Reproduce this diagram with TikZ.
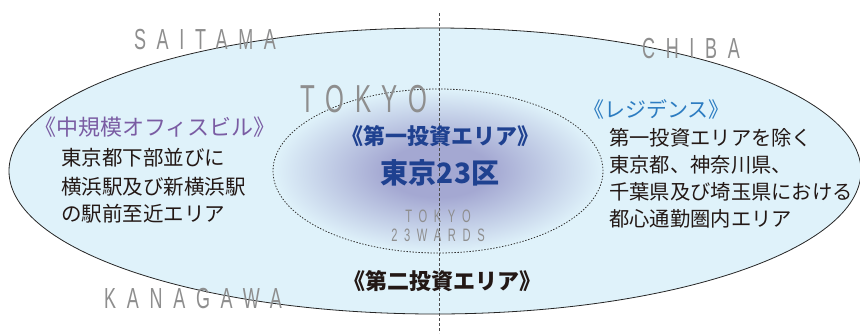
\documentclass[tikz,border=0pt]{standalone}
\usepackage{fontspec}
\usetikzlibrary{shapes.geometric}
\newfontfamily\jp{Noto Sans CJK JP}
\newfontfamily\latsp{Liberation Sans}[FakeStretch=0.62,LetterSpace=37]
\newfontfamily\latspb{Liberation Sans}[FakeStretch=0.62,LetterSpace=27]
\definecolor{skyfill}{HTML}{DFF2FA}
\definecolor{core}{HTML}{A4A8D2}
\definecolor{navy}{HTML}{1F4190}
\definecolor{resblue}{HTML}{2C7CC1}
\definecolor{offpurple}{HTML}{7A5CA3}
\definecolor{ink}{HTML}{231815}
\definecolor{placegray}{HTML}{8E8E8E}
\pgfdeclareradialshading{coreshade}{\pgfpoint{0bp}{0bp}}{color(0bp)=(core); color(8bp)=(core); color(25bp)=(skyfill); color(50bp)=(skyfill)}
\tikzset{
  place/.style={inner sep=0pt, text=placegray, font=\latsp\fontsize{#1}{#1}\selectfont},
  jptext/.style={inner sep=0pt, anchor=west, text=ink, font=\jp\fontsize{#1}{#1}\selectfont},
  jptitle/.style={inner sep=0pt, font=\jp\bfseries\fontsize{#1}{#1}\selectfont},
  jplead/.style={inner sep=0pt, anchor=west, font=\jp\fontsize{#1}{#1}\selectfont},
}
\begin{document}
\begin{tikzpicture}[x=1pt,y=-1pt]
\useasboundingbox (0,0) rectangle (860,333);
\fill[white] (0,0) rectangle (860,333);
% outer area
\node[ellipse, draw=black!85, line width=0.8pt, fill=skyfill, minimum width=852pt, minimum height=286pt, inner sep=0pt] (outer) at (435,171) {};
% inner area
\node[ellipse, shading=coreshade, draw=black!80, line width=0.8pt, dash pattern=on 1.4pt off 1.6pt, minimum width=330pt, minimum height=164pt, inner sep=0pt] (inner) at (438,171) {};
% vertical divider
\coordinate (vtop) at (439,13);
\coordinate (vbot) at (439,333);
\draw[black!70, line width=0.7pt, dash pattern=on 3pt off 2pt] (vtop) -- (vbot);
% place names
\node[place=29] (saitama) at (205,40) {SAITAMA};
\node[place=29] (chiba) at (691,49) {CHIBA};
\node[place=29] (kanagawa) at (193,299) {KANAGAWA};
\node[inner sep=0pt, text=placegray, font=\latspb\fontsize{39}{39}\selectfont] (tokyo) at (364,99) {TOKYO};
\node[place=18] (tokyoS) at (438,216.5) {TOKYO};
\node[place=18] (wards) at (438,235) {23WARDS};
% centre
\node[jptitle=22, text=navy] (first) at (440,136) {《第一投資エリア》};
\node[jptitle=28, text=navy] (ku) at (440,172.5) {東京23区};
% left
\node[jplead=22, text=offpurple] (office) at (34,127) {《中規模オフィスビル》};
\node[jptext=20.5] (l1) at (61,158) {東京都下部並びに};
\node[jptext=20.5] (l2) at (61,187) {横浜駅及び新横浜駅};
\node[jptext=20.5] (l3) at (61,214) {の駅前至近エリア};
% right
\node[jplead=21, text=resblue] (res) at (583,109) {《レジデンス》};
\node[jptext=20.3] (r1) at (609,138) {第一投資エリアを除く};
\node[jptext=20.3] (r2) at (609,165) {東京都、神奈川県、};
\node[jptext=20.3] (r3) at (609,192) {千葉県及び埼玉県における};
\node[jptext=20.3] (r4) at (609,219) {都心通勤圏内エリア};
% second area
\node[jptitle=22, text=ink] (second) at (442,281) {《第二投資エリア》};
\end{tikzpicture}
\end{document}
